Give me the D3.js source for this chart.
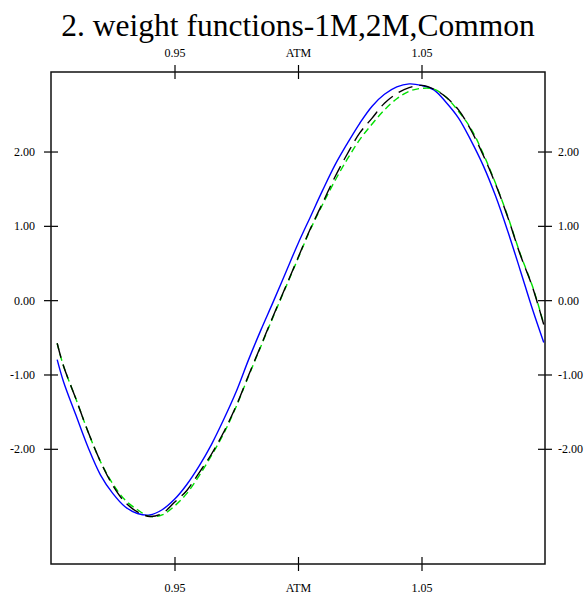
<!DOCTYPE html>
<html>
<head>
<meta charset="utf-8">
<script src="https://cdn.jsdelivr.net/npm/d3@7"></script>
<style>
  html, body { margin: 0; padding: 0; background: #ffffff; }
  svg { display: block; }
</style>
</head>
<body>
<div id="chart"></div>
<script>
// moneyness grid (ATM = 1.00)
const strikes = [0.9025, 0.905, 0.91, 0.915, 0.92, 0.925, 0.93, 0.935, 0.94, 0.945,
  0.95, 0.955, 0.96, 0.965, 0.97, 0.975, 0.98, 0.985, 0.99, 0.995,
  1.0, 1.005, 1.01, 1.015, 1.02, 1.025, 1.03, 1.035, 1.04, 1.045,
  1.05, 1.055, 1.06, 1.065, 1.07, 1.075, 1.08, 1.085, 1.09, 1.095, 1.0995];

// weight function values
const w1M = [-0.80, -1.09, -1.54, -1.98, -2.35, -2.60, -2.78, -2.87, -2.89, -2.82,
  -2.68, -2.48, -2.23, -1.94, -1.60, -1.23, -0.80, -0.40, -0.02, 0.37,
  0.76, 1.12, 1.48, 1.82, 2.11, 2.38, 2.61, 2.77, 2.87, 2.91,
  2.89, 2.83, 2.66, 2.45, 2.15, 1.81, 1.40, 0.92, 0.40, -0.13, -0.57];

const w2M = [-0.58, -0.88, -1.32, -1.77, -2.17, -2.49, -2.72, -2.85, -2.91, -2.87,
  -2.72, -2.56, -2.32, -2.07, -1.77, -1.42, -1.01, -0.61, -0.21, 0.18,
  0.57, 0.96, 1.31, 1.66, 1.97, 2.25, 2.45, 2.65, 2.78, 2.86,
  2.89, 2.84, 2.73, 2.56, 2.29, 1.95, 1.56, 1.11, 0.61, 0.17, -0.33];

const wCommon = [-0.58, -0.88, -1.32, -1.77, -2.17, -2.47, -2.69, -2.82, -2.91, -2.89,
  -2.77, -2.60, -2.36, -2.09, -1.79, -1.43, -1.02, -0.62, -0.22, 0.17,
  0.56, 0.95, 1.29, 1.61, 1.90, 2.16, 2.37, 2.56, 2.71, 2.81,
  2.85, 2.84, 2.73, 2.54, 2.31, 1.97, 1.57, 1.12, 0.62, 0.18, -0.32];

const xTicks = [0.95, 1.0, 1.05];
const xTickLabels = ['0.95', 'ATM', '1.05'];
const yTicks = [-2, -1, 0, 1, 2];

const width = 586, height = 596;
const plot = { left: 51, right: 545, top: 72, bottom: 564 };

const svg = d3.select('#chart')
  .append('svg')
  .attr('width', width)
  .attr('height', height);

const x = d3.scaleLinear().domain([0.9, 1.1]).range([plot.left, plot.right]);
const y = d3.scaleLinear().domain([-3.55, 3.07]).range([plot.bottom, plot.top]);

// title
svg.append('text')
  .attr('x', 298)
  .attr('y', 36)
  .attr('text-anchor', 'middle')
  .style('font-family', '"Liberation Serif", "DejaVu Serif", serif')
  .style('font-size', '31.5px')
  .attr('fill', '#000')
  .text('2. weight functions-1M,2M,Common');

// axes: ticks cross the frame line
const tickFmt = d => xTickLabels[xTicks.indexOf(d)];
const yFmt = d => d.toFixed(2);  // plain hyphen for negatives
const axisStyle = g => {
  g.select('.domain').remove();
  g.selectAll('.tick line').attr('stroke', '#000').attr('stroke-width', 1.2);
  g.selectAll('.tick text')
    .style('font-family', '"Liberation Serif", serif')
    .style('font-size', '12px')
    .attr('fill', '#000');
};

svg.append('g')
  .attr('transform', `translate(0,${plot.top + 7})`)
  .call(d3.axisTop(x).tickValues(xTicks).tickFormat(tickFmt).tickSize(14).tickPadding(8))
  .call(axisStyle);

svg.append('g')
  .attr('transform', `translate(0,${plot.bottom - 7})`)
  .call(d3.axisBottom(x).tickValues(xTicks).tickFormat(tickFmt).tickSize(14).tickPadding(12))
  .call(axisStyle);

svg.append('g')
  .attr('transform', `translate(${plot.left + 7},0)`)
  .call(d3.axisLeft(y).tickValues(yTicks).tickFormat(yFmt).tickSize(14).tickPadding(9))
  .call(axisStyle);

svg.append('g')
  .attr('transform', `translate(${plot.right - 7},0)`)
  .call(d3.axisRight(y).tickValues(yTicks).tickFormat(yFmt).tickSize(14).tickPadding(6))
  .call(axisStyle);

// frame
svg.append('rect')
  .attr('x', plot.left)
  .attr('y', plot.top)
  .attr('width', plot.right - plot.left)
  .attr('height', plot.bottom - plot.top)
  .attr('fill', 'none')
  .attr('stroke', '#111')
  .attr('stroke-width', 1.5);

// curves
const line = vals => d3.line()
  .x((d, i) => x(strikes[i]))
  .y(d => y(d))
  .curve(d3.curveCatmullRom)(vals);

const series = [
  { vals: w1M, color: '#0000ff', dash: null },
  { vals: wCommon, color: '#00e000', dash: '7,4' },
  { vals: w2M, color: '#000000', dash: '15,7' }
];

series.forEach(s => {
  svg.append('path')
    .attr('d', line(s.vals))
    .attr('fill', 'none')
    .attr('stroke', s.color)
    .attr('stroke-width', 1.4)
    .attr('stroke-dasharray', s.dash);
});
</script>
</body>
</html>
